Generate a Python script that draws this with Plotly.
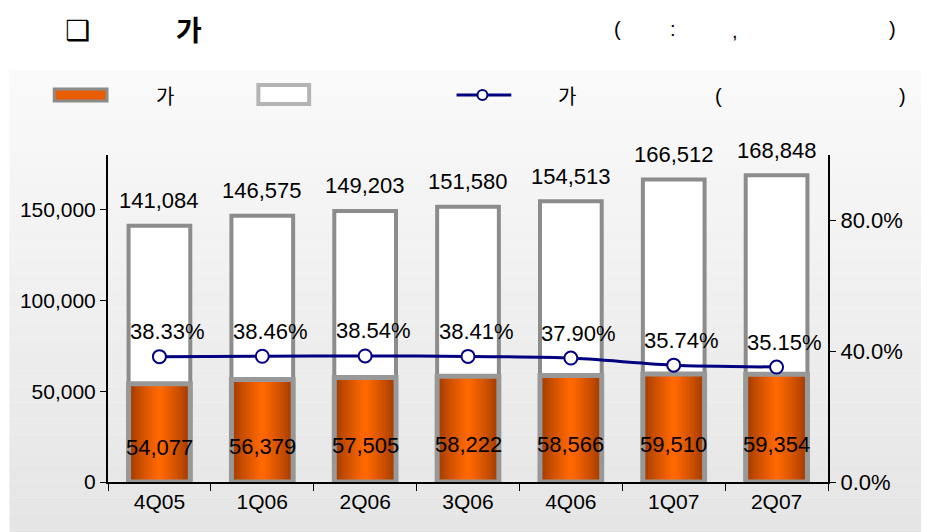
import plotly.graph_objects as go

quarters = ['4Q05', '1Q06', '2Q06', '3Q06', '4Q06', '1Q07', '2Q07']
total_values = [141084, 146575, 149203, 151580, 154513, 166512, 168848]
orange_values = [54077, 56379, 57505, 58222, 58566, 59510, 59354]
ratio_values = [0.3833, 0.3846, 0.3854, 0.3841, 0.3790, 0.3574, 0.3515]

FONT = 'Liberation Sans, Arial, sans-serif'
KFONT = 'Noto Sans CJK KR, sans-serif'
GRAY = '#8c8c8c'
NAVY = '#000080'
BAR_W = 0.6

fig = go.Figure()

# total (white) bars behind
fig.add_trace(go.Bar(x=quarters, y=total_values, width=BAR_W, marker=dict(color='white', line=dict(color=GRAY, width=4)), showlegend=False, hoverinfo='skip'))

# orange bars, faked cylinder gradient with narrowing layers
edge, mid = (158, 58, 0), (255, 104, 0)
layers = 12
for k in range(layers):
    t = (k / (layers - 1)) ** 0.8
    c = 'rgb({},{},{})'.format(*[int(a + (b - a) * t) for a, b in zip(edge, mid)])
    fig.add_trace(go.Bar(x=quarters, y=orange_values, width=BAR_W * (1 - k / layers), marker=dict(color=c, line=dict(width=0)), showlegend=False, hoverinfo='skip'))
fig.add_trace(go.Bar(x=quarters, y=orange_values, width=BAR_W, marker=dict(color='rgba(0,0,0,0)', line=dict(color='#989898', width=5)), showlegend=False, hoverinfo='skip'))

fig.add_trace(go.Scatter(x=quarters, y=ratio_values, yaxis='y2', mode='lines+markers', line=dict(color=NAVY, width=3, shape='spline', smoothing=0.6), marker=dict(symbol='circle', size=13, color='white', line=dict(color=NAVY, width=2)), showlegend=False, hovertemplate='%{x}: %{y:.2%}<extra></extra>'))

annotations = []
for q, t, o, r in zip(quarters, total_values, orange_values, ratio_values):
    annotations.append(dict(x=q, y=t, text=f'{t:,}', showarrow=False, yshift=25, font=dict(family=FONT, size=22, color='black')))
    annotations.append(dict(x=q, y=o * 0.35, text=f'{o:,}', showarrow=False, font=dict(family=FONT, size=22, color='black')))
    annotations.append(dict(x=q, y=r, yref='y2', text=f'{r * 100:.2f}%', showarrow=False, yshift=25, xshift=8, font=dict(family=FONT, size=22, color='black')))

# header and legend text
def txt(x, y, s, size=18, bold=False, family=KFONT):
    annotations.append(dict(x=x, y=y, xref='paper', yref='paper', xanchor='center', yanchor='middle', text=f'<b>{s}</b>' if bold else s, showarrow=False, font=dict(family=family, size=size, color='black')))

def px_x(px):
    return (px - 105) / 723

def px_y(py):
    return (482 - py) / 327

txt(px_x(74), px_y(30), '❑', size=28, bold=True, family='DejaVu Sans')
txt(px_x(186), px_y(29), '가', size=28, bold=True)
txt(px_x(617), px_y(29), '(', size=20, family=FONT)
txt(px_x(672), px_y(29), ':', size=20, family=FONT)
txt(px_x(735), px_y(31), ',', size=20, family=FONT)
txt(px_x(893), px_y(29), ')', size=20, family=FONT)
txt(px_x(162), px_y(95), '가', size=20)
txt(px_x(566), px_y(95), '가', size=20)
txt(px_x(718), px_y(96), '(', size=20, family=FONT)
txt(px_x(903), px_y(96), ')', size=20, family=FONT)

shapes = []
# panel background gradient
n = 30
top_px, bot_px = 70, 545
for i in range(n):
    y0 = top_px + (bot_px - top_px) * i / n
    y1 = top_px + (bot_px - top_px) * (i + 1) / n
    v = int(250 - (250 - 229) * i / (n - 1))
    shapes.append(dict(type='rect', xref='paper', yref='paper', x0=px_x(6), x1=px_x(923), y0=px_y(y1), y1=px_y(y0), fillcolor=f'rgb({v},{v},{v})', line=dict(width=0), layer='below'))

# legend swatches
shapes.append(dict(type='rect', xref='paper', yref='paper', x0=px_x(51), x1=px_x(104), y0=px_y(101), y1=px_y(89), fillcolor='#e85d00', line=dict(color=GRAY, width=3)))
shapes.append(dict(type='rect', xref='paper', yref='paper', x0=px_x(256), x1=px_x(307), y0=px_y(104), y1=px_y(85), fillcolor='white', line=dict(color='#b4b4b4', width=4)))
shapes.append(dict(type='line', xref='paper', yref='paper', x0=px_x(455), x1=px_x(510), y0=px_y(95), y1=px_y(95), line=dict(color=NAVY, width=3)))
shapes.append(dict(type='circle', xref='paper', yref='paper', x0=px_x(476), x1=px_x(486), y0=px_y(100), y1=px_y(90), fillcolor='white', line=dict(color=NAVY, width=2)))

# page body has an 8px margin, so the figure is shifted up-left by 8px
fig.update_layout(
    width=929, height=532,
    margin=dict(l=97, r=109, t=147, b=58),
    paper_bgcolor='white', plot_bgcolor='rgba(0,0,0,0)',
    barmode='overlay', bargap=0.4,
    font=dict(family=FONT, size=18, color='black'),
    xaxis=dict(showline=True, linecolor='black', linewidth=2, ticks='outside', ticklen=7, tickcolor='black', tickson='boundaries', showgrid=False, tickfont=dict(size=21), fixedrange=True),
    yaxis=dict(range=[0, 180000], tickvals=[0, 50000, 100000, 150000], tickformat=',', showline=True, linecolor='black', linewidth=2, ticks='outside', ticklen=6, tickcolor='black', showgrid=False, zeroline=False, tickfont=dict(size=21)),
    yaxis2=dict(range=[0, 1.0], overlaying='y', side='right', tickvals=[0, 0.4, 0.8], tickformat='.1%', showline=True, linecolor='black', linewidth=2, ticks='outside', ticklen=6, tickcolor='black', showgrid=False, zeroline=False, tickfont=dict(size=22)),
    annotations=annotations,
    shapes=shapes,
)

fig.write_html("out.html")
